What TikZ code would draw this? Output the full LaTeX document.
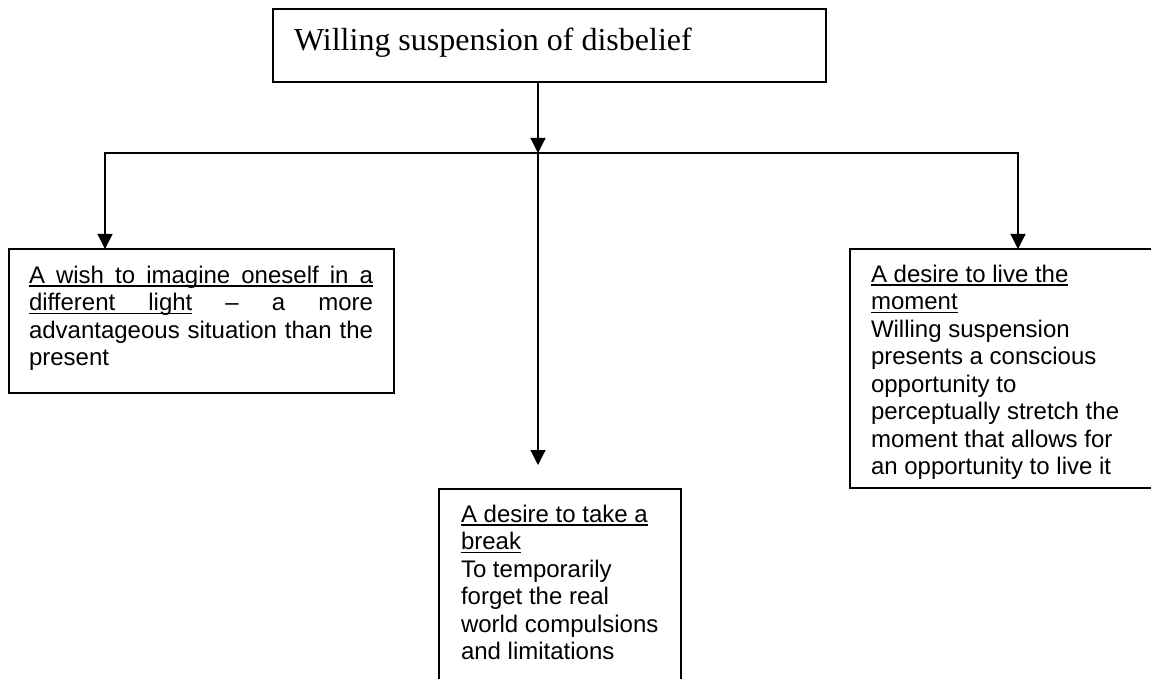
\documentclass[tikz,border=0pt]{standalone}
\usepackage{fontspec}
\setmainfont{Liberation Sans}
\newfontfamily\titlefont{Liberation Serif}
\usetikzlibrary{arrows.meta}
\newcommand{\ulrule}[1]{\vrule height -2.4pt depth 3.9pt width #1}
\newcommand{\myul}[1]{\setbox0\hbox{#1}\rlap{\ulrule{\wd0}}\box0}
\newcommand{\ulfill}{\leaders\vrule height -2.4pt depth 3.9pt\hfill}
\tikzset{
  box/.style={draw=black, line width=1.3pt, fill=none, inner sep=0pt, outer sep=0pt, anchor=north west},
  txt/.style={inner sep=0pt, outer sep=0pt, anchor=base west, font=\fontsize{24}{27.5}\selectfont},
  conn/.style={draw=black, line width=1.2pt, line join=miter},
  tip/.tip={Triangle[width=15pt,length=15pt]}
}
\begin{document}
\begin{tikzpicture}[x=1pt,y=-1pt]
\useasboundingbox (0,0) rectangle (1151,679);
% boxes
\node[box, minimum width=553pt, minimum height=73pt] (top) at (273,9) {};
\node[box, minimum width=385pt, minimum height=144pt] (lbox) at (9,249) {};
\node[box, minimum width=242pt, minimum height=230pt] (mbox) at (439,489) {};
\node[box, minimum width=320pt, minimum height=239pt] (rbox) at (850,249) {};
% texts
\node[txt] (ttl) at (294,51) {\titlefont\fontsize{32}{36}\selectfont Willing suspension of disbelief};
\node[txt] (lt) at (29,283) {\vtop{\baselineskip=27.5pt
\hbox to 344pt{\rlap{\ulrule{344pt}}A\hfill wish\hfill to\hfill imagine\hfill oneself\hfill in\hfill a}
\hbox to 344pt{\myul{different}\ulfill\myul{light}\hfill –\hfill a\hfill more}
\hbox to 344pt{advantageous\hfill situation\hfill than\hfill the}
\hbox{present}}};
\node[txt] (mt) at (461,522) {\vtop{\baselineskip=27.5pt
\hbox{\myul{A desire to take a}}
\hbox{\myul{break}}
\hbox{To temporarily}
\hbox{forget the real}
\hbox{world compulsions}
\hbox{and limitations}}};
\node[txt] (rt) at (871,282) {\vtop{\baselineskip=27.5pt
\hbox{\myul{A desire to live the}}
\hbox{\myul{moment}}
\hbox{Willing suspension}
\hbox{presents a conscious}
\hbox{opportunity to}
\hbox{perceptually stretch the}
\hbox{moment that allows for}
\hbox{an opportunity to live it}}};
% connectors
\coordinate (j) at (538,153);
\coordinate (jl) at (105,153);
\coordinate (jr) at (1018,153);
\coordinate (mtip) at (538,465);
\draw[conn, -tip] (j |- top.south) -- (j);
\draw[conn, tip-tip] (jl |- lbox.north) -- (jl) -- (jr) -- (jr |- rbox.north);
\draw[conn, -tip] (j) -- (mtip);
\end{tikzpicture}
\end{document}
